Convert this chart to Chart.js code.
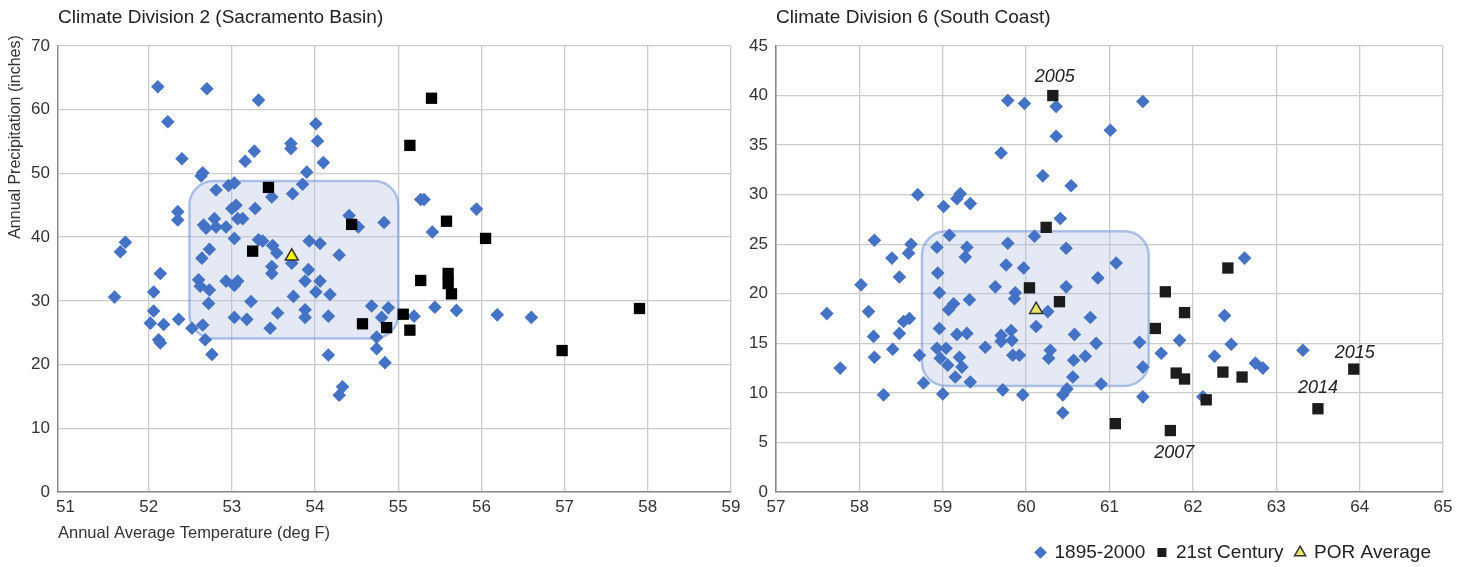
<!DOCTYPE html>
<html>
<head>
<meta charset="utf-8">
<script src="https://cdn.jsdelivr.net/npm/chart.js@4.4.1/dist/chart.umd.min.js"></script>
<style>
  html, body { margin: 0; padding: 0; background: #fff; }
  #wrap { position: relative; width: 1472px; height: 567px; overflow: hidden; }
  .panel { position: absolute; top: 0; height: 567px; }
  #leftPanel { left: 0; width: 740px; }
  #rightPanel { left: 740px; width: 732px; }
</style>
</head>
<body>
<div id="wrap">
  <div class="panel" id="leftPanel"><canvas id="div2Chart"></canvas></div>
  <div class="panel" id="rightPanel"><canvas id="div6Chart"></canvas></div>
</div>
<script>
// ==================== DATA ====================
const seriesNames = ['1895-2000', '21st Century', 'POR Average'];

// Climate Division 2 (Sacramento Basin) - temperature (deg F) / precipitation (in)
const div2HistTemp = [
  52.11, 52.70, 53.32, 52.23, 54.01, 53.71, 53.71, 54.03, 52.40, 53.27,
  53.16, 54.10, 52.63, 52.65, 53.90, 52.81, 52.96, 53.03, 53.48, 53.73,
  53.85, 52.35, 52.35, 52.79, 53.00, 53.05, 53.28, 52.66, 52.69, 52.81,
  52.93, 53.07, 53.13, 51.72, 51.66, 53.03, 53.32, 53.37, 53.49, 53.54,
  53.93, 54.06, 54.29, 52.64, 52.73, 54.41, 54.52, 54.83, 53.72, 53.48,
  53.48, 53.92, 52.14, 52.60, 52.62, 52.73, 52.93, 53.03, 53.07, 52.06,
  51.59, 52.72, 53.23, 53.74, 53.88, 53.88, 53.88, 54.06, 54.01, 54.18,
  52.06, 52.02, 52.18, 52.36, 53.03, 53.18, 53.55, 54.16, 52.52, 52.65,
  52.12, 52.14, 52.68, 52.76, 53.46, 54.16, 54.33, 54.29, 54.68, 54.88,
  54.80, 54.74, 54.74, 54.84, 55.27, 55.31, 55.94, 55.41, 55.19, 55.44,
  55.70, 56.19, 56.60
];
const div2HistPrecip = [
  63.6, 63.3, 61.5, 58.1, 57.8, 54.7, 53.9, 55.1, 52.3, 53.5,
  51.9, 51.7, 49.6, 50.1, 50.2, 47.4, 48.1, 48.5, 46.3, 46.8,
  48.3, 44.0, 42.7, 42.9, 44.5, 45.0, 44.5, 41.9, 41.4, 41.6,
  41.6, 42.9, 42.9, 39.2, 37.7, 39.8, 39.6, 39.4, 38.7, 37.5,
  39.4, 39.0, 37.2, 36.7, 38.1, 43.4, 41.6, 42.3, 35.9, 35.4,
  34.3, 34.9, 34.3, 33.3, 32.3, 31.7, 33.1, 32.4, 33.1, 31.4,
  30.6, 29.6, 29.9, 30.7, 33.1, 28.6, 27.4, 33.1, 31.4, 31.0,
  28.4, 26.5, 26.3, 27.1, 27.4, 27.1, 28.1, 27.6, 25.7, 26.2,
  23.9, 23.4, 23.9, 21.6, 25.7, 21.5, 16.5, 15.2, 29.2, 28.9,
  27.4, 24.3, 22.5, 20.3, 45.9, 45.9, 44.4, 40.8, 27.6, 29.0,
  28.5, 27.8, 27.4
];
const div2RecentTemp = [
  53.44, 54.44, 53.25, 54.57, 54.86, 55.40, 55.14, 55.58, 56.05, 55.60,
  55.60, 55.64, 55.27, 55.06, 55.14, 56.97, 57.90
];
const div2RecentPrecip = [
  47.8, 42.0, 37.8, 26.4, 25.8, 61.8, 54.4, 42.5, 39.8, 34.3,
  32.7, 31.1, 33.2, 27.9, 25.4, 22.2, 28.8
];
const div2PorTemp = [53.72];
const div2PorPrecip = [37.0];
const div2XTicks = [51, 52, 53, 54, 55, 56, 57, 58, 59];
const div2YTicks = [0, 10, 20, 30, 40, 50, 60, 70];
const div2Box = { tempFrom: 52.49, tempTo: 55.0, precipFrom: 24.1, precipTo: 48.8 };

// Climate Division 6 (South Coast)
const div6HistTemp = [
  59.78, 59.98, 60.36, 60.36, 59.70, 60.20, 60.54, 58.70, 59.21, 59.17,
  59.33, 59.01, 60.41, 61.01, 58.18, 59.08, 60.10, 59.78, 58.62, 58.59,
  58.93, 59.29, 58.39, 60.48, 59.27, 59.76, 59.97, 61.40, 62.62, 61.08,
  57.61, 57.77, 58.02, 58.11, 58.17, 58.18, 58.29, 58.48, 58.48, 58.40,
  58.53, 58.60, 58.72, 58.77, 58.96, 58.96, 59.04, 58.97, 59.00, 59.87,
  59.86, 59.70, 59.83, 59.72, 59.96, 60.44, 60.44, 60.49, 60.84, 58.94,
  59.63, 59.32, 59.13, 59.07, 59.17, 59.29, 59.51, 59.70, 59.82, 59.84,
  59.92, 60.29, 60.27, 60.48, 60.26, 60.12, 60.58, 60.57, 60.71, 60.77,
  60.86, 60.90, 59.33, 59.15, 59.06, 59.23, 59.20, 58.93, 60.56, 62.38,
  61.36, 61.84, 61.62, 62.26, 62.46, 62.75, 62.84, 63.32, 61.40, 62.12,
  61.40
];
const div6HistPrecip = [
  39.5, 39.2, 38.9, 35.9, 34.2, 31.9, 30.9, 30.0, 30.1, 29.6,
  29.1, 28.8, 27.6, 36.5, 25.4, 25.9, 25.8, 25.1, 25.0, 24.1,
  24.7, 24.7, 23.6, 24.6, 23.7, 22.9, 22.6, 39.4, 23.6, 23.1,
  18.0, 12.5, 20.9, 18.2, 15.7, 13.6, 9.8, 21.7, 16.0, 14.4,
  17.2, 17.5, 13.8, 11.0, 20.1, 16.5, 14.5, 13.5, 9.9, 20.1,
  19.5, 15.2, 15.3, 10.3, 9.8, 8.0, 9.8, 10.4, 15.0, 22.1,
  20.7, 19.4, 19.0, 18.4, 15.9, 16.0, 14.6, 15.8, 16.3, 13.8,
  13.8, 14.3, 13.5, 20.7, 18.2, 16.7, 15.9, 13.3, 13.7, 17.6,
  21.6, 10.9, 11.1, 11.6, 12.8, 12.6, 13.6, 14.5, 11.6, 17.8,
  15.1, 15.3, 14.0, 13.7, 14.9, 13.0, 12.5, 14.3, 9.6, 9.6,
  12.6
];
const div6RecentTemp = [
  60.32, 60.24, 62.42, 60.04, 61.67, 60.40, 61.90, 61.55, 62.36, 61.80,
  62.59, 61.90, 62.16, 63.50, 61.07, 61.73, 63.93
];
const div6RecentPrecip = [
  40.0, 26.7, 22.6, 20.6, 20.2, 19.2, 18.1, 16.5, 12.1, 12.0,
  11.6, 11.4, 9.3, 8.4, 6.9, 6.2, 12.4
];
const div6PorTemp = [60.12];
const div6PorPrecip = [18.4];
const div6XTicks = [57, 58, 59, 60, 61, 62, 63, 64, 65];
const div6YTicks = [0, 5, 10, 15, 20, 25, 30, 35, 40, 45];
const div6Box = { tempFrom: 58.75, tempTo: 61.47, precipFrom: 10.7, precipTo: 26.3 };
// which 21st century points carry a year label
const div6YearLabels = ['2005', '2007', '2014', '2015'];
const div6YearLabelIndex = [0, 15, 13, 16];

// ==================== STYLE ====================
const FONT = "'Liberation Sans', Arial, sans-serif";
const blue = '#4472c4';
const gridColor = '#cbcbcb';
const axisColor = '#8a8a8a';
const textColor = '#333333';
const yearLabelOffsets = [[2, -19], [4, 22], [0, -21], [1, -16]];

Chart.defaults.font.family = FONT;
Chart.defaults.color = textColor;

function toPoints(xs, ys) {
    return xs.map((x, i) => ({ x: x, y: ys[i] }));
}

// box, panel title, rotated y title and year labels
const panelDecor = {
    id: 'panelDecor',
    beforeDatasetsDraw(chart, args, opts) {
        const { ctx } = chart;
        const xs = chart.scales.x, ys = chart.scales.y;
        const b = opts.box;
        const left = xs.getPixelForValue(b.tempFrom);
        const right = xs.getPixelForValue(b.tempTo);
        const top = ys.getPixelForValue(b.precipTo);
        const bottom = ys.getPixelForValue(b.precipFrom);
        ctx.save();
        ctx.beginPath();
        ctx.roundRect(left, top, right - left, bottom - top, 24);
        ctx.fillStyle = 'rgba(178, 190, 230, 0.34)';
        ctx.fill();
        ctx.lineWidth = 2.5;
        ctx.strokeStyle = 'rgba(120, 155, 215, 0.6)';
        ctx.stroke();
        ctx.restore();
    },
    afterDraw(chart, args, opts) {
        const { ctx, chartArea } = chart;
        ctx.save();
        ctx.fillStyle = '#222';
        ctx.textBaseline = 'middle';
        ctx.font = '19px ' + FONT;
        ctx.fillText(opts.title, chartArea.left, 18);

        if (opts.labels) {
            const meta = chart.getDatasetMeta(1);
            ctx.font = 'italic 18px ' + FONT;
            ctx.textAlign = 'center';
            opts.labels.forEach(function(l) {
                const pt = meta.data[l.index];
                ctx.fillText(l.text, pt.x + l.dx, pt.y + l.dy);
            });
        }

        if (opts.yTitle) {
            ctx.font = '16px ' + FONT;
            ctx.fillStyle = textColor;
            ctx.textAlign = 'center';
            ctx.translate(16, 137);
            ctx.rotate(-Math.PI / 2);
            ctx.fillText(opts.yTitle, 0, 0);
        }
        ctx.restore();
    }
};

function makeDatasets(histT, histP, recT, recP, porT, porP, triFill, sqFill) {
    return [
        {
            label: seriesNames[0],
            data: toPoints(histT, histP),
            pointStyle: 'rectRot',
            pointRadius: 6.8,
            borderWidth: 0,
            backgroundColor: blue,
            borderColor: blue,
            order: 3
        },
        {
            label: seriesNames[1],
            data: toPoints(recT, recP),
            pointStyle: 'rect',
            pointRadius: 8,
            borderWidth: 0,
            backgroundColor: sqFill,
            borderColor: sqFill,
            order: 2
        },
        {
            label: seriesNames[2],
            data: toPoints(porT, porP),
            pointStyle: 'triangle',
            pointRadius: 7.5,
            borderWidth: 1.5,
            backgroundColor: triFill,
            borderColor: '#333',
            order: 1
        }
    ];
}

function makeScales(xTicks, yTicks, xMin, yAxisWidth, xAxisHeight, xTitle, hideFirstGrid) {
    return {
        x: {
            type: 'linear',
            min: xMin,
            max: xTicks[xTicks.length - 1],
            afterBuildTicks: function(axis) { axis.ticks = xTicks.map(v => ({ value: v })); },
            afterFit: function(axis) {
                axis.height = xAxisHeight;
                axis.paddingLeft = 0;
                axis.paddingRight = 0;
            },
            grid: {
                color: function(c) {
                    return (hideFirstGrid && c.tick && c.tick.value === xTicks[0]) ? 'rgba(0,0,0,0)' : gridColor;
                },
                lineWidth: 1.3,
                drawTicks: false
            },
            border: { color: axisColor, width: 1.5 },
            ticks: { padding: 5, font: { size: 17 }, color: textColor },
            title: {
                display: !!xTitle,
                text: xTitle || '',
                align: 'start',
                font: { size: 16.5 },
                color: textColor,
                padding: { top: 0, bottom: 24 }
            }
        },
        y: {
            type: 'linear',
            min: yTicks[0],
            max: yTicks[yTicks.length - 1],
            afterBuildTicks: function(axis) { axis.ticks = yTicks.map(v => ({ value: v })); },
            afterFit: function(axis) { axis.width = yAxisWidth; },
            grid: { color: gridColor, lineWidth: 1.3, drawTicks: false },
            border: { color: axisColor, width: 1.5 },
            ticks: { padding: 8, font: { size: 17 }, color: textColor }
        }
    };
}

// ==================== CHARTS ====================
new Chart(document.getElementById('div2Chart'), {
    type: 'scatter',
    data: {
        datasets: makeDatasets(div2HistTemp, div2HistPrecip, div2RecentTemp, div2RecentPrecip,
            div2PorTemp, div2PorPrecip, '#ffff00', '#000000')
    },
    options: {
        responsive: true,
        maintainAspectRatio: false,
        animation: false,
        events: [],
        layout: { padding: { top: 46, right: 7, left: 0, bottom: 0 } },
        scales: makeScales(div2XTicks, div2YTicks, 50.91, 58, 75, 'Annual Average Temperature (deg F)', true),
        plugins: {
            legend: { display: false },
            tooltip: { enabled: false },
            panelDecor: {
                box: div2Box,
                title: 'Climate Division 2 (Sacramento Basin)',
                yTitle: 'Annual Precipitation (inches)'
            }
        }
    },
    plugins: [panelDecor]
});

new Chart(document.getElementById('div6Chart'), {
    type: 'scatter',
    data: {
        datasets: makeDatasets(div6HistTemp, div6HistPrecip, div6RecentTemp, div6RecentPrecip,
            div6PorTemp, div6PorPrecip, '#e9e56c', '#1c1c1c')
    },
    options: {
        responsive: true,
        maintainAspectRatio: false,
        animation: false,
        events: [],
        layout: { padding: { top: 46, right: 29, left: 0, bottom: -5 } },
        scales: makeScales(div6XTicks, div6YTicks, div6XTicks[0], 36, 39, '', false),
        plugins: {
            legend: {
                position: 'bottom',
                align: 'end',
                labels: {
                    usePointStyle: true,
                    boxWidth: 9,
                    boxHeight: 9,
                    padding: 12,
                    font: { size: 19 },
                    color: '#222',
                    sort: (a, b) => a.datasetIndex - b.datasetIndex
                }
            },
            tooltip: { enabled: false },
            panelDecor: {
                box: div6Box,
                title: 'Climate Division 6 (South Coast)',
                labels: div6YearLabels.map((t, i) => ({
                    text: t,
                    index: div6YearLabelIndex[i],
                    dx: yearLabelOffsets[i][0],
                    dy: yearLabelOffsets[i][1]
                }))
            }
        }
    },
    plugins: [panelDecor]
});
</script>
</body>
</html>
